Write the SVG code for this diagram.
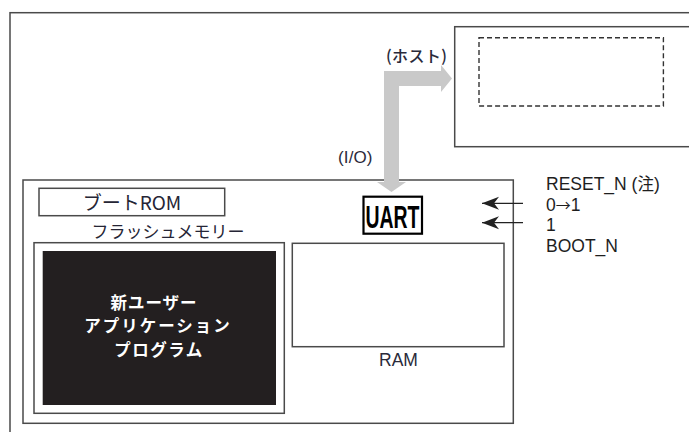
<svg xmlns="http://www.w3.org/2000/svg" width="689" height="432" viewBox="0 0 689 432">
<style>
.box{fill:#fff;stroke:#4a4a4a;stroke-width:1.5}
.lat{font-family:"Liberation Sans",Arial,sans-serif;fill:#1e1e1e}
.jp{font-family:"Noto Sans CJK JP","Liberation Sans",sans-serif;fill:#252535}
.sig{stroke:#222;stroke-width:1.3;fill:none}
</style>
<defs>
<marker id="ah" viewBox="-18 -8 19 16" markerWidth="19" markerHeight="16" refX="0" refY="0" orient="auto" markerUnits="userSpaceOnUse">
<path d="M0,0 L-17,-6.5 L-12,0 L-17,6.5 Z" fill="#222"/>
</marker>
</defs>
<rect width="689" height="432" fill="#fff"/>
<g id="outer-frame"><rect x="10" y="12.7" width="700" height="440" class="box"/></g>
<g id="host">
<rect x="454.7" y="26.7" width="240" height="120" class="box"/>
<rect x="479" y="37.7" width="184.4" height="68.3" fill="none" stroke="#333" stroke-width="1.4" stroke-dasharray="5 3"/>
</g>
<g id="chip"><rect x="23" y="180" width="490.3" height="243.3" class="box"/></g>
<g id="boot-rom">
<rect x="39" y="188.3" width="185.7" height="27.4" class="box"/>
<text x="132" y="209.8" class="jp" font-size="19" text-anchor="middle">ブートROM</text>
</g>
<g id="flash">
<text x="168" y="237.5" class="jp" font-size="17" text-anchor="middle">フラッシュメモリー</text>
<rect x="34" y="242.7" width="250.3" height="170.6" class="box"/>
<rect x="42.7" y="251" width="233.3" height="154" fill="#231f20"/>
<g class="jp" font-size="16.5" font-weight="bold" style="fill:#fff" text-anchor="middle">
<text x="154" y="308.5" letter-spacing="1">新ユーザー</text>
<text x="158" y="332" letter-spacing="2">アプリケーション</text>
<text x="159" y="355.5" letter-spacing="1.5">プログラム</text>
</g>
</g>
<g id="ram">
<rect x="292.3" y="243.3" width="211.7" height="103.4" class="box"/>
<text x="398.5" y="366" class="lat" font-size="17.5" text-anchor="middle" style="fill:#2a2a3a">RAM</text>
</g>
<g id="uart">
<rect x="363.5" y="196.7" width="58.5" height="37" fill="#fff" stroke="#000" stroke-width="2.2"/>
<text x="365.5" y="227.5" class="lat" font-size="31" font-weight="bold" textLength="54" lengthAdjust="spacingAndGlyphs" style="fill:#000">UART</text>
</g>
<g id="connectors">
<path d="M384,182 L384,71 L441,71 L441,65 L452,78.5 L441,92 L441,86 L399,86 L399,182 L406,182 L391.5,192 L377,182 Z" fill="#c9c9c9"/>
<line x1="523" y1="203.3" x2="482" y2="203.3" class="sig" marker-end="url(#ah)"/>
<line x1="523" y1="222.7" x2="482" y2="222.7" class="sig" marker-end="url(#ah)"/>
</g>
<g id="labels">
<text x="386" y="61.5" class="jp" font-size="16" font-weight="500" textLength="61" style="fill:#2a2a3a">(ホスト)</text>
<text x="338" y="162.5" class="lat" font-size="17" textLength="34.5" style="fill:#2a2a3a">(I/O)</text>
<text x="546" y="190" class="lat" font-size="17.5">RESET_N (<tspan font-family="Liberation Sans, Noto Sans CJK JP, sans-serif" font-size="16.5">注</tspan>)</text>
<text x="546" y="210.5" class="lat" font-size="17.5">0<tspan font-size="15" font-family="Noto Sans CJK JP, sans-serif">→</tspan>1</text>
<text x="546" y="231" class="lat" font-size="17.5">1</text>
<text x="546" y="251.5" class="lat" font-size="17.5">BOOT_N</text>
</g>
</svg>
